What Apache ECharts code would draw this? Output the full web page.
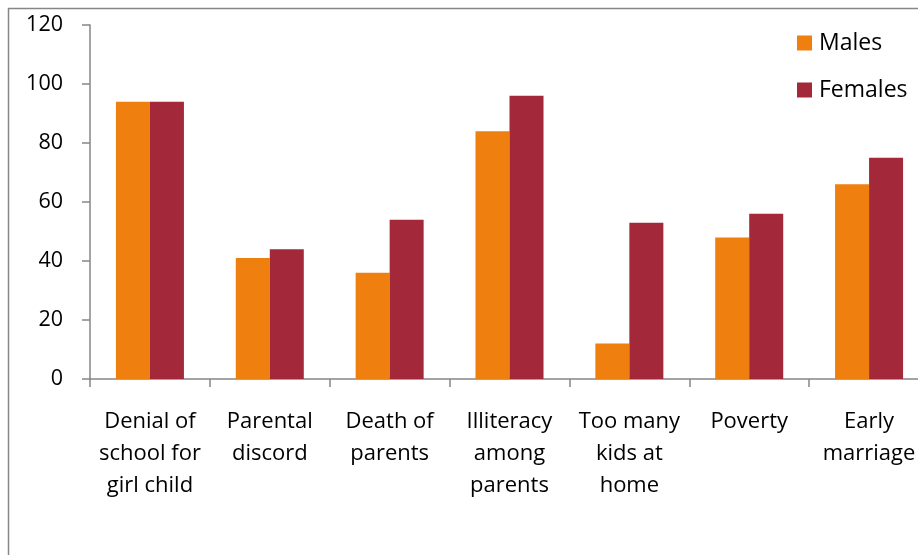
<!DOCTYPE html>
<html>
<head>
<meta charset="utf-8">
<script src="https://cdn.jsdelivr.net/npm/echarts@6/dist/echarts.min.js"></script>
<style>
  html, body { margin: 0; padding: 0; background: #fff; }
  #chart { width: 918px; height: 555px; }
</style>
</head>
<body>
<div id="chart"></div>
<script>
// Reasons for dropping out of school, by sex
const categories = [
  'Denial of\nschool for\ngirl child',
  'Parental\ndiscord',
  'Death of\nparents',
  'Illiteracy\namong\nparents',
  'Too many\nkids at\nhome',
  'Poverty',
  'Early\nmarriage'
];
const males = [94, 41, 36, 84, 12, 48, 66];
const females = [94, 44, 54, 96, 53, 56, 75];
const seriesNames = ['Males', 'Females'];

const FONT = '"Open Sans", sans-serif';
const AXIS_GRAY = '#868686';

const chart = echarts.init(document.getElementById('chart'), null, { renderer: 'canvas' });

chart.setOption({
  animation: false,
  backgroundColor: '#fff',
  graphic: [{
    type: 'rect',
    shape: { x: 8.5, y: 8.5, width: 1000, height: 600 },
    style: { fill: 'none', stroke: AXIS_GRAY, lineWidth: 1.5 },
    silent: true,
    z: 0
  }],
  legend: {
    orient: 'vertical',
    left: 797,
    top: 31,
    padding: 0,
    itemGap: 23,
    itemWidth: 15,
    itemHeight: 15,
    icon: 'rect',
    textStyle: {
      fontFamily: FONT,
      fontSize: 23,
      lineHeight: 24,
      color: '#000',
      padding: [0, 0, 0, 2]
    },
    data: seriesNames
  },
  grid: {
    left: 90,
    top: 25,
    width: 839,
    height: 354,
    containLabel: false,
    outerBoundsMode: 'none'
  },
  xAxis: {
    type: 'category',
    data: categories,
    axisLine: { show: true, lineStyle: { color: AXIS_GRAY, width: 1.5 } },
    axisTick: { show: true, alignWithLabel: false, length: 8, lineStyle: { color: AXIS_GRAY, width: 1.5 } },
    axisLabel: {
      interval: 0,
      margin: 27,
      fontFamily: FONT,
      fontSize: 22,
      lineHeight: 32,
      color: '#000',
      align: 'center'
    },
    splitLine: { show: false }
  },
  yAxis: {
    type: 'value',
    min: 0,
    max: 120,
    interval: 20,
    axisLine: { show: true, lineStyle: { color: AXIS_GRAY, width: 1.5 } },
    axisTick: { show: true, length: 8, lineStyle: { color: AXIS_GRAY, width: 1.5 } },
    axisLabel: {
      margin: 27,
      fontFamily: FONT,
      fontSize: 21.5,
      color: '#000'
    },
    splitLine: { show: false }
  },
  series: [
    {
      name: seriesNames[0],
      type: 'bar',
      data: males,
      barWidth: 34,
      barGap: '0%',
      itemStyle: { color: '#EF7F0E' }
    },
    {
      name: seriesNames[1],
      type: 'bar',
      data: females,
      barWidth: 34,
      barGap: '0%',
      itemStyle: { color: '#A32839' }
    }
  ]
});
</script>
</body>
</html>
